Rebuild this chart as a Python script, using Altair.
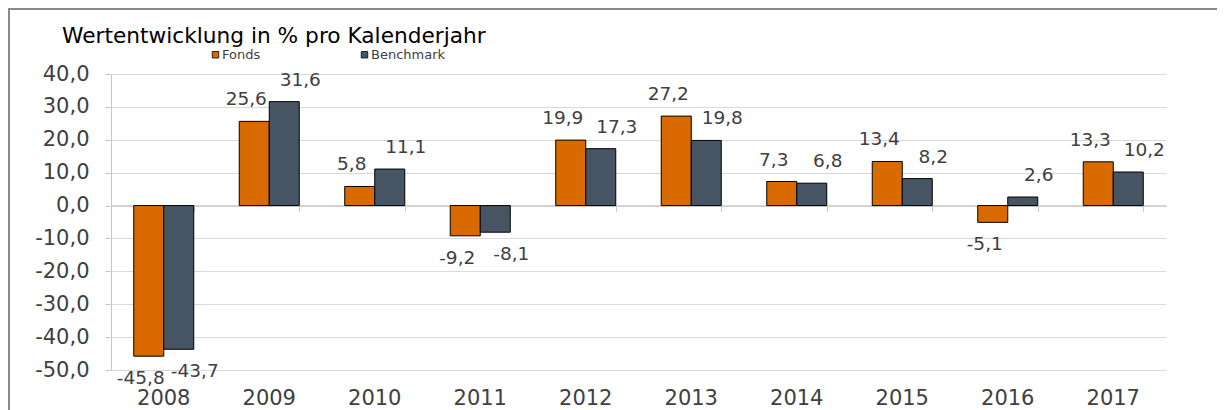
import altair as alt
import pandas as pd

years = ["2008", "2009", "2010", "2011", "2012", "2013", "2014", "2015", "2016", "2017"]
series = ["Fonds", "Benchmark"]
fonds = [-45.8, 25.6, 5.8, -9.2, 19.9, 27.2, 7.3, 13.4, -5.1, 13.3]
benchmark = [-43.7, 31.6, 11.1, -8.1, 17.3, 19.8, 6.8, 8.2, 2.6, 10.2]
y_ticks = [-50, -40, -30, -20, -10, 0, 10, 20, 30, 40]
title_text = "Wertentwicklung in % pro Kalenderjahr"

rows = []
for name, vals in zip(series, [fonds, benchmark]):
    for yr, v in zip(years, vals):
        rows.append({"Jahr": yr, "Serie": name, "Wert": v,
                     "Label": f"{v:.1f}".replace(".", ",")})
df = pd.DataFrame(rows)

FONT = "DejaVu Sans"
TXT = "#404040"
W, H = 1055, 296
ZERO_OFF = -(H * 50 / 90)  # zero line offset from the bottom edge

x_scale = alt.Scale(domain=years, paddingInner=0.431, paddingOuter=0.2155)
y_scale = alt.Scale(domain=[-50, 40], nice=False, zero=False)
off_scale = alt.Scale(domain=series, paddingInner=0, paddingOuter=0)
color_scale = alt.Scale(domain=series, range=["#D96A00", "#465463"])

zero_axis = alt.Axis(title=None, orient="bottom", labels=False, domain=True,
                     domainColor="#c8c8c8", domainWidth=1.5, ticks=True, tickBand="extent",
                     tickSize=6, tickColor="#c8c8c8", grid=False, offset=ZERO_OFF)
label_axis = alt.Axis(title=None, orient="bottom", labelAngle=0, domain=False, ticks=False,
                      grid=False, labelFont=FONT, labelFontSize=21, labelColor=TXT,
                      labelPadding=17)
y_axis = alt.Axis(title=None, values=y_ticks, domain=True, domainColor="#c8c8c8",
                  ticks=True, tickSize=6, tickColor="#c8c8c8", grid=True,
                  gridColor="#d9d9d9", labelFont=FONT, labelFontSize=21,
                  labelColor=TXT, labelPadding=16, labelOverlap=False,
                  labelExpr="replace(replace(format(datum.value, '.1f'), '.', ','), '\u2212', '-')")

base = alt.Chart(df)

bars = base.mark_bar(stroke="#000000", strokeWidth=1).encode(
    x=alt.X("Jahr:N", scale=x_scale, axis=zero_axis, sort=years),
    xOffset=alt.XOffset("Serie:N", scale=off_scale, sort=series),
    y=alt.Y("Wert:Q", scale=y_scale, axis=y_axis),
    color=alt.Color("Serie:N", scale=color_scale, sort=series,
                    legend=alt.Legend(title=None, orient="none", legendX=94, legendY=-26,
                                      direction="horizontal", symbolType="square",
                                      symbolSize=42, symbolStrokeColor="#000000",
                                      symbolStrokeWidth=0.8, symbolOffset=4,
                                      labelFont=FONT, labelFontSize=13, labelColor=TXT,
                                      labelOffset=0, columnPadding=93, padding=0)),
)

layers = [bars]
first = True
for name, dx in [("Fonds", -8), ("Benchmark", 16)]:
    for cond, dy in [("datum.Wert >= 0", -22), ("datum.Wert < 0", 22)]:
        layers.append(
            base.transform_filter(f"datum.Serie == '{name}' && {cond}")
            .mark_text(font=FONT, fontSize=18.5, color=TXT, dx=dx, dy=dy,
                       baseline="middle", align="center")
            .encode(
                x=alt.X("Jahr:N", scale=x_scale, axis=label_axis if first else None,
                        sort=years),
                xOffset=alt.XOffset("Serie:N", scale=off_scale, sort=series),
                y=alt.Y("Wert:Q", scale=y_scale, axis=y_axis),
                text="Label:N",
            )
        )
        first = False

one = pd.DataFrame({"t": [title_text]})
title = alt.Chart(one).mark_text(font=FONT, fontSize=21.7, color="#000000", align="left",
                                 baseline="alphabetic").encode(
    x=alt.value(-49), y=alt.value(-31), text="t:N")
frame_left = alt.Chart(one).mark_rule(color="#8a8a8a", strokeWidth=2).encode(
    x=alt.value(-102), y=alt.value(-65), y2=alt.value(H + 40))
frame_top = alt.Chart(one).mark_rule(color="#8a8a8a", strokeWidth=2).encode(
    x=alt.value(-103), x2=alt.value(W + 60), y=alt.value(-65))

chart = alt.layer(*layers, title, frame_left, frame_top).resolve_axis(
    x="independent"
).properties(
    width=W, height=H,
    autosize=alt.AutoSizeParams(type="none"),
    padding={"left": 103, "top": 66, "right": 51, "bottom": 40},
).configure(
    background="white",
    view=alt.ViewConfig(stroke=None),
    axisY=alt.AxisConfig(labelOverlap=False),
)

chart.save("out.html", embed_options={"renderer": "svg", "actions": False})
